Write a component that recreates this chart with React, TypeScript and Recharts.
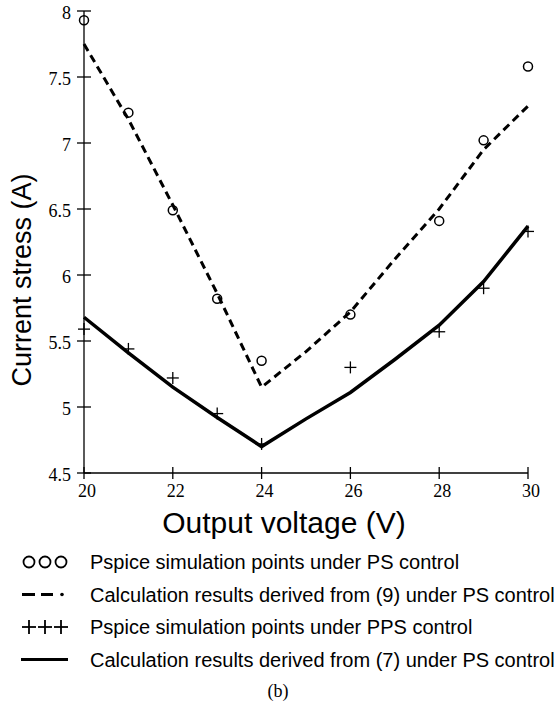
import { ComposedChart, Line, Scatter, XAxis, YAxis, Label } from "recharts";

// x values of the simulation points and of the calculated curves
const simVoltages = [20, 21, 22, 23, 24, 26, 28, 29, 30];
const calcVoltages = [20, 21, 22, 23, 24, 25, 26, 27, 28, 29, 30];

// Pspice simulation, PS control (circles)
const psSim = [7.93, 7.23, 6.49, 5.82, 5.35, 5.7, 6.41, 7.02, 7.58];
// Pspice simulation, PPS control (crosses)
const ppsSim = [5.59, 5.44, 5.22, 4.95, 4.72, 5.3, 5.57, 5.9, 6.33];
// Calculation from (9), PS control (dashed)
const calc9 = [7.75, 7.18, 6.53, 5.86, 5.15, 5.42, 5.72, 6.12, 6.5, 6.95, 7.28];
// Calculation from (7) (solid)
const calc7 = [5.68, 5.41, 5.15, 4.92, 4.7, 4.91, 5.11, 5.36, 5.62, 5.95, 6.37];

const xTicks = [20, 22, 24, 26, 28, 30];
const yTicks = [4.5, 5, 5.5, 6, 6.5, 7, 7.5, 8];

const legendLabels = [
  "Pspice simulation points under PS control",
  "Calculation results derived from (9) under PS control",
  "Pspice simulation points under PPS control",
  "Calculation results derived from (7) under PS control",
];

const serif = "'Liberation Serif', 'Times New Roman', Times, serif";
const sans = "'Liberation Sans', Arial, sans-serif";

const circleData = simVoltages.map((v, i) => ({ v, s: psSim[i] }));
const plusData = simVoltages.map((v, i) => ({ v, s: ppsSim[i] }));
const dashedData = calcVoltages.map((v, i) => ({ v, s: calc9[i] }));
const solidData = calcVoltages.map((v, i) => ({ v, s: calc7[i] }));

const YTick = ({ x, y, payload }: any) => (
  <g>
    <line x1={x - 7} x2={x + 7} y1={y} y2={y} stroke="#000" strokeWidth={1.3} />
    <text
      x={x - 13}
      y={y + 8}
      textAnchor="end"
      style={{ fontFamily: serif, fontSize: 18 }}
      fill="#000"
    >
      {payload.value}
    </text>
  </g>
);

const XTick = ({ x, y, payload }: any) => (
  <g>
    <line x1={x} x2={x} y1={y - 6} y2={y + 6} stroke="#000" strokeWidth={1.3} />
    <text
      x={x + 3}
      y={y + 24}
      textAnchor="middle"
      style={{ fontFamily: serif, fontSize: 18 }}
      fill="#000"
    >
      {payload.value}
    </text>
  </g>
);

const OpenCircle = ({ cx, cy }: any) => (
  <circle cx={cx} cy={cy} r={4.5} fill="none" stroke="#000" strokeWidth={1.5} />
);

const Cross = ({ cx, cy }: any) => (
  <g stroke="#000" strokeWidth={1.3}>
    <line x1={cx - 6} x2={cx + 6} y1={cy} y2={cy} />
    <line x1={cx} x2={cx} y1={cy - 6} y2={cy + 6} />
  </g>
);

function LegendSymbol({ index, y }: { index: number; y: number }) {
  if (index === 0) {
    return (
      <g fill="none" stroke="#000" strokeWidth={1.8}>
        {[29, 45, 61].map((cx) => <circle key={cx} cx={cx} cy={y} r={5.5} />)}
      </g>
    );
  }
  if (index === 1) {
    return (
      <g stroke="#000" strokeWidth={3}>
        <line x1={22} x2={35} y1={y} y2={y} />
        <line x1={41} x2={53} y1={y} y2={y} />
        <circle cx={62} cy={y} r={1.8} fill="#000" stroke="none" />
      </g>
    );
  }
  if (index === 2) {
    return (
      <g stroke="#000" strokeWidth={1.8}>
        {[29, 45, 61].map((cx) => (
          <g key={cx}>
            <line x1={cx - 7} x2={cx + 7} y1={y} y2={y} />
            <line x1={cx} x2={cx} y1={y - 7} y2={y + 7} />
          </g>
        ))}
      </g>
    );
  }
  return <line x1={21} x2={68} y1={y} y2={y} stroke="#000" strokeWidth={3.2} />;
}

export default function App() {
  return (
    <div style={{ position: "absolute", left: 0, top: 0, width: 556, height: 708, background: "#fff" }}>
      <ComposedChart
        width={556}
        height={708}
        margin={{ top: 11, right: 28, bottom: 175, left: 0 }}
      >
        <XAxis
          dataKey="v"
          type="number"
          domain={[20, 30]}
          ticks={xTicks}
          allowDuplicatedCategory={false}
          axisLine={{ stroke: "#000", strokeWidth: 1.3 }}
          tickLine={false}
          tickSize={0}
          tickMargin={0}
          tick={<XTick />}
          height={60}
        >
          <Label
            content={() => (
              <text x={284} y={533} textAnchor="middle" style={{ fontFamily: sans, fontSize: 30 }} fill="#000">
                Output voltage (V)
              </text>
            )}
          />
        </XAxis>
        <YAxis
          dataKey="s"
          type="number"
          domain={[4.5, 8]}
          ticks={yTicks}
          axisLine={{ stroke: "#000", strokeWidth: 1.3 }}
          tickLine={false}
          tickSize={0}
          tickMargin={0}
          tick={<YTick />}
          width={84}
        >
          <Label
            content={() => (
              <text
                x={31}
                y={280}
                transform="rotate(-90, 31, 280)"
                textAnchor="middle"
                style={{ fontFamily: sans, fontSize: 27 }}
                fill="#000"
              >
                Current stress (A)
              </text>
            )}
          />
        </YAxis>
        <Line
          data={dashedData}
          dataKey="s"
          type="linear"
          stroke="#000"
          strokeWidth={3}
          strokeDasharray="8 5"
          dot={false}
          activeDot={false}
          isAnimationActive={false}
        />
        <Line
          data={solidData}
          dataKey="s"
          type="linear"
          stroke="#000"
          strokeWidth={3.5}
          dot={false}
          activeDot={false}
          isAnimationActive={false}
        />
        <Scatter data={circleData} dataKey="s" shape={<OpenCircle />} isAnimationActive={false} />
        <Scatter data={plusData} dataKey="s" shape={<Cross />} isAnimationActive={false} />
      </ComposedChart>
      <svg
        width={556}
        height={708}
        style={{ position: "absolute", left: 0, top: 0, pointerEvents: "none" }}
      >
        {legendLabels.map((label, i) => {
          const cy = 562 + i * 32.5;
          return (
            <g key={label}>
              <LegendSymbol index={i} y={cy} />
              <text x={90} y={cy + 7} style={{ fontFamily: sans, fontSize: 20 }} fill="#000">
                {label}
              </text>
            </g>
          );
        })}
        <text x={278} y={697} textAnchor="middle" style={{ fontFamily: serif, fontSize: 18 }} fill="#000">
          (b)
        </text>
      </svg>
    </div>
  );
}
